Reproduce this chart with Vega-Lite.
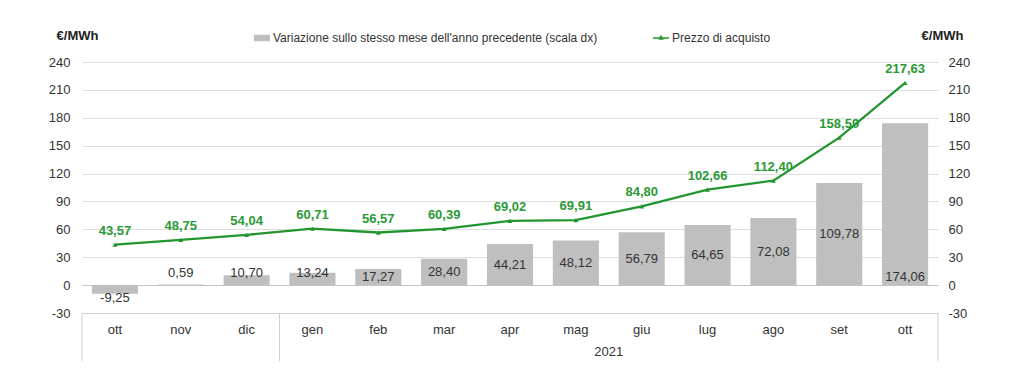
{
  "$schema": "https://vega.github.io/schema/vega-lite/v6.json",
  "width": 856,
  "height": 251,
  "autosize": {"type": "none"},
  "padding": {"left": 82, "top": 62, "right": 86, "bottom": 57},
  "background": "white",
  "config": {
    "view": {"stroke": null},
    "font": "Liberation Sans",
    "locale": {"number": {"decimal": ",", "thousands": ".", "grouping": [3], "currency": ["", " €"], "minus": "-"}},
    "axis": {"labelFont": "Liberation Sans", "titleFont": "Liberation Sans", "labelColor": "#333333", "titleColor": "#222222", "labelOverlap": false},
    "legend": {"labelFont": "Liberation Sans"}
  },
  "datasets": {
    "d": [
      {"k": "ott_2020", "v": -9.25, "p": 43.57},
      {"k": "nov_2020", "v": 0.59, "p": 48.75},
      {"k": "dic_2020", "v": 10.70, "p": 54.04},
      {"k": "gen_2021", "v": 13.24, "p": 60.71},
      {"k": "feb_2021", "v": 17.27, "p": 56.57},
      {"k": "mar_2021", "v": 28.40, "p": 60.39},
      {"k": "apr_2021", "v": 44.21, "p": 69.02},
      {"k": "mag_2021", "v": 48.12, "p": 69.91},
      {"k": "giu_2021", "v": 56.79, "p": 84.80},
      {"k": "lug_2021", "v": 64.65, "p": 102.66},
      {"k": "ago_2021", "v": 72.08, "p": 112.40},
      {"k": "set_2021", "v": 109.78, "p": 158.59},
      {"k": "ott_2021", "v": 174.06, "p": 217.63}
    ]
  },
  "data": {"name": "d"},
  "encoding": {
    "x": {
      "field": "k",
      "type": "nominal",
      "scale": {
        "domain": ["ott_2020", "nov_2020", "dic_2020", "gen_2021", "feb_2021", "mar_2021", "apr_2021", "mag_2021", "giu_2021", "lug_2021", "ago_2021", "set_2021", "ott_2021"],
        "paddingInner": 0,
        "paddingOuter": 0
      },
      "axis": {
        "orient": "bottom",
        "title": null,
        "labelAngle": 0,
        "labelFontSize": 13,
        "labelPadding": 10,
        "ticks": false,
        "domain": true,
        "domainColor": "#d0d0d0",
        "grid": false,
        "labelExpr": "split(datum.label, '_')[0]"
      }
    }
  },
  "layer": [
    {
      "layer": [
        {
          "mark": {"type": "bar", "width": {"band": 0.7}},
          "encoding": {
            "y": {
              "field": "v",
              "type": "quantitative",
              "scale": {"domain": [-30, 240], "nice": false, "zero": false},
              "axis": {
                "orient": "right",
                "values": [-30, 0, 30, 60, 90, 120, 150, 180, 210, 240],
                "tickCount": 12,
                "labelFontSize": 13,
                "labelPadding": 10,
                "labelOverlap": false,
                "ticks": false,
                "domain": false,
                "grid": true,
                "gridColor": {"condition": {"test": "datum.value === 0", "value": "#c4c4c4"}, "value": "#dedede"},
                "title": "€/MWh",
                "titleAngle": 0,
                "titleAlign": "center",
                "titleBaseline": "middle",
                "titleFontSize": 13,
                "titleFontWeight": "bold",
                "titleX": 4,
                "titleY": -27
              }
            },
            "color": {
              "datum": "Variazione sullo stesso mese dell'anno precedente (scala dx)",
              "type": "nominal",
              "scale": {
                "domain": ["Variazione sullo stesso mese dell'anno precedente (scala dx)", "Prezzo di acquisto"],
                "range": ["#bfbfbf", "#23952f"]
              },
              "legend": {
                "title": null,
                "orient": "none",
                "direction": "horizontal",
                "legendX": 172,
                "legendY": -32,
                "labelFontSize": 12,
                "labelLimit": 600,
                "labelColor": "#333333",
                "labelOffset": 3,
                "columnPadding": 55,
                "symbolSize": 256,
                "encode": {
                  "symbols": {
                    "update": {
                      "shape": {"signal": "datum.value === 'Prezzo di acquisto' ? 'M-1,-0.09L1,-0.09L1,0.09L-1,0.09Z M0,-0.4L0.35,0.22L-0.35,0.22Z' : 'M-1,-0.4L1,-0.4L1,0.4L-1,0.4Z'"},
                      "fill": {"signal": "datum.value === 'Prezzo di acquisto' ? '#23952f' : '#bfbfbf'"},
                      "stroke": {"value": "transparent"},
                      "strokeWidth": {"value": 0},
                      "opacity": {"value": 1},
                      "fillOpacity": {"value": 1},
                      "size": {"value": 256}
                    }
                  }
                }
              }
            }
          }
        },
        {
          "transform": [
            {"calculate": "datum.v < 0 ? datum.v - 5 : (datum.v < 15 ? 12.5 : (datum.v > 150 ? 9 : datum.v / 2))", "as": "ly"}
          ],
          "mark": {"type": "text", "fontSize": 13, "color": "#333333", "baseline": "middle"},
          "encoding": {
            "y": {"field": "ly", "type": "quantitative"},
            "text": {"field": "v", "type": "quantitative", "format": ".2f"}
          }
        },
        {
          "transform": [{"filter": "datum.k === 'ott_2020' || datum.k === 'gen_2021'"}],
          "mark": {"type": "rule", "color": "#d0d0d0", "strokeWidth": 1},
          "encoding": {
            "x": {"field": "k", "type": "nominal", "bandPosition": 0},
            "y": {"datum": -30, "type": "quantitative"},
            "y2": {"datum": -82}
          }
        },
        {
          "transform": [{"filter": "datum.k === 'ott_2021'"}],
          "mark": {"type": "rule", "color": "#d0d0d0", "strokeWidth": 1},
          "encoding": {
            "x": {"field": "k", "type": "nominal", "bandPosition": 1},
            "y": {"datum": -30, "type": "quantitative"},
            "y2": {"datum": -82}
          }
        },
        {
          "transform": [{"filter": "datum.k === 'giu_2021'"}],
          "mark": {"type": "text", "fontSize": 13, "color": "#333333", "baseline": "middle", "align": "center"},
          "encoding": {
            "x": {"field": "k", "type": "nominal", "bandPosition": 0},
            "y": {"datum": -72, "type": "quantitative"},
            "text": {"value": "2021"}
          }
        }
      ]
    },
    {
      "layer": [
        {
          "mark": {"type": "line", "strokeWidth": 2.3, "point": {"shape": "triangle-up", "size": 24, "filled": true}},
          "encoding": {
            "y": {
              "field": "p",
              "type": "quantitative",
              "scale": {"domain": [-30, 240], "nice": false, "zero": false},
              "axis": {
                "orient": "left",
                "values": [-30, 0, 30, 60, 90, 120, 150, 180, 210, 240],
                "tickCount": 12,
                "labelFontSize": 13,
                "labelPadding": 12,
                "labelOverlap": false,
                "ticks": false,
                "domain": false,
                "grid": false,
                "title": "€/MWh",
                "titleAngle": 0,
                "titleAlign": "center",
                "titleBaseline": "middle",
                "titleFontSize": 13,
                "titleFontWeight": "bold",
                "titleX": -5,
                "titleY": -27
              }
            },
            "color": {"datum": "Prezzo di acquisto", "type": "nominal"}
          }
        },
        {
          "mark": {"type": "text", "fontSize": 13, "fontWeight": "bold", "color": "#2a9a36", "baseline": "middle", "dy": -14},
          "encoding": {
            "y": {"field": "p", "type": "quantitative"},
            "text": {"field": "p", "type": "quantitative", "format": ".2f"}
          }
        }
      ]
    }
  ],
  "resolve": {"scale": {"y": "independent"}}
}
